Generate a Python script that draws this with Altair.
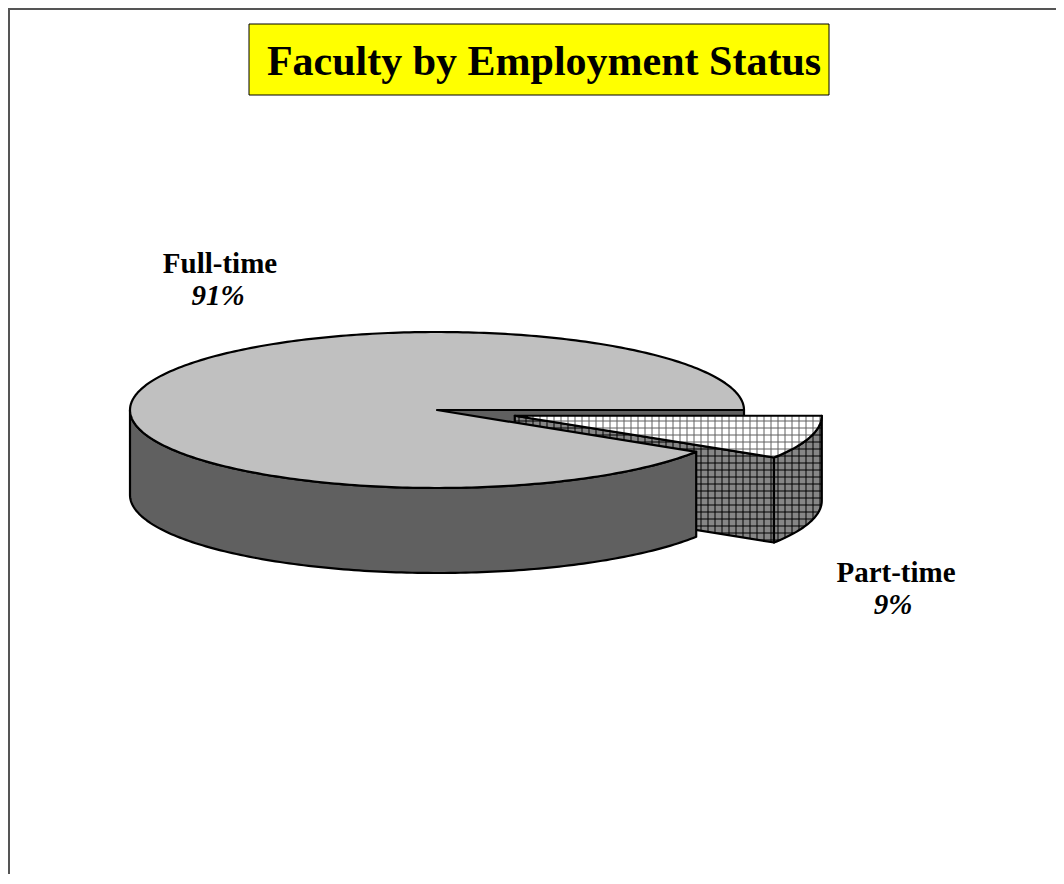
import math
import altair as alt

# ---------------- data ----------------
categories = ["Full-time", "Part-time"]
shares = [91, 9]
chart_title = "Faculty by Employment Status"

# ---------------- geometry / style ----------------
W, H = 1048, 866
CX, CY = 429, 402          # pie centre (chart px)
RX, RY = 307, 78           # ellipse radii of top face
DEPTH = 85                 # extrusion depth
EXPLODE = 81               # explosion distance of part-time slice
GRID = 7                   # hatch grid spacing

FT_TOP, FT_SIDE = "#C0C0C0", "#606060"
PT_TOP, PT_SIDE = "#FFFFFF", "#868686"

total = float(sum(shares))
pt_span = 360.0 * shares[1] / total
pt_start, pt_end = 0.0, pt_span
ft_start, ft_end = pt_span, 360.0

tm = math.radians((pt_start + pt_end) / 2)
OX = EXPLODE * math.cos(tm)
OY = EXPLODE * RY / RX * math.sin(tm)


def rim(t, ox=0.0, oy=0.0, down=0.0):
    r = math.radians(t)
    return [CX + ox + RX * math.cos(r), CY + oy + RY * math.sin(r) + down]


def arc(t0, t1, ox=0.0, oy=0.0, down=0.0):
    n = max(2, int(abs(t1 - t0) / 1.0) + 1)
    return [rim(t0 + (t1 - t0) * i / (n - 1), ox, oy, down) for i in range(n)]


def grid_segments(poly, s):
    segs = []
    n = len(poly)
    xs = [p[0] for p in poly]
    ys = [p[1] for p in poly]
    x = math.floor(min(xs) / s) * s + s
    while x < max(xs):
        hits = []
        for i in range(n):
            (x1, y1), (x2, y2) = poly[i], poly[(i + 1) % n]
            if (x1 <= x < x2) or (x2 <= x < x1):
                hits.append(y1 + (x - x1) * (y2 - y1) / (x2 - x1))
        hits.sort()
        for a, b in zip(hits[0::2], hits[1::2]):
            segs.append([[x, a], [x, b]])
        x += s
    y = math.floor(min(ys) / s) * s + s
    while y < max(ys):
        hits = []
        for i in range(n):
            (x1, y1), (x2, y2) = poly[i], poly[(i + 1) % n]
            if (y1 <= y < y2) or (y2 <= y < y1):
                hits.append(x1 + (y - y1) * (x2 - x1) / (y2 - y1))
        hits.sort()
        for a, b in zip(hits[0::2], hits[1::2]):
            segs.append([[a, y], [b, y]])
        y += s
    return segs


features = []


def add_poly(pts, fill, grid_color=None):
    ring = pts + [pts[0]]
    features.append({"type": "Feature",
                     "properties": {"fill": fill, "stroke": "transparent", "sw": 0},
                     "geometry": {"type": "Polygon", "coordinates": [ring]}})
    if grid_color:
        features.append({"type": "Feature",
                         "properties": {"fill": "transparent", "stroke": grid_color, "sw": 1},
                         "geometry": {"type": "MultiLineString",
                                      "coordinates": grid_segments(pts, GRID)}})
    features.append({"type": "Feature",
                     "properties": {"fill": "transparent", "stroke": "black", "sw": 2.2},
                     "geometry": {"type": "Polygon", "coordinates": [ring]}})


# painter's order
ft_cut = [[CX, CY], rim(0), rim(0, down=DEPTH), [CX, CY + DEPTH]]
pt_cut = [[CX + OX, CY + OY], rim(pt_end, OX, OY), rim(pt_end, OX, OY, DEPTH),
          [CX + OX, CY + OY + DEPTH]]
pt_wall = arc(pt_start, pt_end, OX, OY) + arc(pt_end, pt_start, OX, OY, DEPTH)
pt_top = [[CX + OX, CY + OY]] + arc(pt_start, pt_end, OX, OY)
ft_wall = arc(ft_start, 180) + arc(180, ft_start, down=DEPTH)
ft_top = [[CX, CY]] + arc(ft_start, ft_end)

add_poly(ft_cut, FT_SIDE)
add_poly(pt_cut, PT_SIDE, "#000000")
add_poly(pt_wall, PT_SIDE, "#000000")
add_poly(pt_top, PT_TOP, "#606060")
add_poly(ft_wall, FT_SIDE)
add_poly(ft_top, FT_TOP)

pie = alt.Chart(alt.InlineData(values=features)).mark_geoshape(
    strokeJoin="round", strokeCap="round"
).encode(
    fill=alt.Fill("properties.fill:N", scale=None),
    stroke=alt.Stroke("properties.stroke:N", scale=None),
    strokeWidth=alt.StrokeWidth("properties.sw:Q", scale=None),
).project(type="identity", scale=1, translate=[0, 0])

# ---------------- frame & title ----------------
one = alt.InlineData(values=[{"t": chart_title}])
frame_left = alt.Chart(one).mark_rule(color="#555555", strokeWidth=2).encode(
    x=alt.value(1), y=alt.value(0), y2=alt.value(H))
frame_top = alt.Chart(one).mark_rule(color="#555555", strokeWidth=2).encode(
    y=alt.value(1), x=alt.value(0), x2=alt.value(W))

title_box = alt.Chart(one).mark_rect(fill="#FFFF00", stroke="black", strokeWidth=1).encode(
    x=alt.value(241), x2=alt.value(821), y=alt.value(16), y2=alt.value(87))
title_txt = alt.Chart(one).mark_text(
    font="Liberation Serif", fontSize=42, fontWeight="bold", align="center",
    baseline="alphabetic", color="black"
).encode(text="t:N", x=alt.value(536), y=alt.value(67))

# ---------------- labels ----------------
lab_data = alt.InlineData(values=[{"cat": c, "pct": f"{s}%"} for c, s in zip(categories, shares)])


def label(cat, field, x, y, italic):
    return alt.Chart(lab_data).transform_filter(alt.datum.cat == cat).mark_text(
        font="Liberation Serif", fontSize=29, fontWeight="bold",
        fontStyle="italic" if italic else "normal",
        align="center", baseline="alphabetic", color="black"
    ).encode(text=f"{field}:N", x=alt.value(x), y=alt.value(y))


labels = [
    label("Full-time", "cat", 212, 265, False),
    label("Full-time", "pct", 210, 297, True),
    label("Part-time", "cat", 888, 574, False),
    label("Part-time", "pct", 885, 606, True),
]

chart = alt.layer(frame_left, frame_top, title_box, title_txt, pie, *labels).properties(
    width=W, height=H, padding=0, autosize=alt.AutoSizeParams(type="none")
).configure_view(stroke=None)

chart.save("out.html", embed_options={"renderer": "svg", "actions": False})
